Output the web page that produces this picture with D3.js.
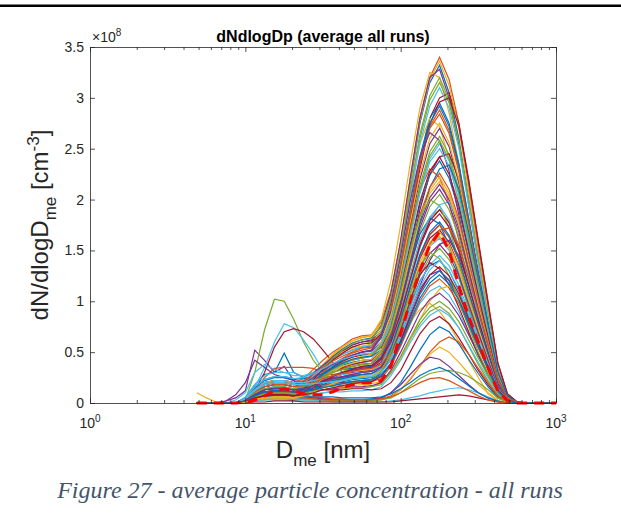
<!DOCTYPE html>
<html>
<head>
<meta charset="utf-8">
<script src="https://cdn.jsdelivr.net/npm/d3@7"></script>
<style>
  body { margin: 0; background: #fff; }
  svg { display: block; font-family: "Liberation Sans", Arial, sans-serif; }
</style>
</head>
<body>
<svg id="chart" width="621" height="529"></svg>
<script>
// mobility diameter bins [nm]
const diameters = [4.87, 5.62, 6.49, 7.5, 8.66, 10, 11.5, 13.3, 15.4, 17.8, 20.5, 23.7, 27.4, 31.6, 36.5,
  42.2, 48.7, 56.2, 64.9, 75, 86.6, 100, 115, 133, 154, 178, 205, 237, 274, 316, 365, 422, 487,
  562, 649, 750, 866, 1000];

const xTickExps = [0, 1, 2, 3];
const yTicks = [0, 0.5, 1, 1.5, 2, 2.5, 3, 3.5];

// dN/dlogDp per run, in units of 1e8 cm^-3
const runs = [
  [0,0,0,0,0, .05,.18,.28,.3,.49,.3,.25,.2,.2,.22,.25,.27,.28,.29,.33,.45,.68,.95,1.2,1.35,1.4,1.3,1.1,.85,.6,.37,.13,.02, 0,0,0,0,0],
  [0,0,0,0,0, .04,.13,.2,.22,.22,.2,.24,.33,.42,.5,.56,.63,.66,.67,.8,1.1,1.58,2.2,2.8,3.2,3.4,3.18,2.75,2.12,1.5,.92,.34,.07, 0,0,0,0,0],
  [.1,.05,.01,0,0, .01,.05,.1,.12,.12,.1,.08,.08,.1,.12,.14,.15,.16,.2,.3,.45,.62,.8,.92,.98,.9,.77,.6,.42,.25,.09,.02,0, 0,0,0,0,0],
  [0,0,0,.02,.05, .12,.52,.42,.3,.36,.22,.15,.14,.16,.2,.24,.26,.27,.28,.32,.44,.66,.9,1.12,1.26,1.3,1.2,1.02,.78,.55,.33,.12,.02, 0,0,0,0,0],
  [0,0,0,0,0, .03,.3,.72,1.02,1.0,.82,.6,.42,.3,.2,.16,.15,.15,.16,.2,.3,.45,.62,.78,.9,.95,.88,.74,.56,.38,.22,.08,.01, 0,0,0,0,0],
  [0,0,0,0,0, .02,.15,.35,.6,.78,.74,.62,.48,.32,.22,.2,.2,.21,.22,.26,.38,.56,.77,.98,1.1,1.15,1.06,.9,.68,.47,.28,.1,.02, 0,0,0,0,0],
  [0,0,0,0,0, .02,.12,.3,.55,.7,.73,.7,.63,.52,.4,.3,.28,.3,.32,.38,.55,.82,1.12,1.42,1.62,1.7,1.58,1.35,1.05,.74,.45,.17,.03, 0,0,0,0,0],
  [0,0,0,0,0, .03,.09,.14,.15,.15,.14,.18,.28,.37,.46,.53,.59,.62,.64,.75,1.05,1.55,2.15,2.75,3.15,3.32,3.05,2.6,2,1.42,.85,.3,.06, 0,0,0,0,0],
  [0,0,0,0,0, .03,.12,.25,.34,.35,.35,.35,.34,.3,.28,.3,.32,.34,.35,.42,.6,.9,1.25,1.6,1.82,1.9,1.78,1.52,1.18,.84,.5,.18,.03, 0,0,0,0,0],
  [0,0,0,0,0, .02,.06,.09,.1,.1,.09,.14,.25,.36,.47,.55,.61,.64,.66,.82,1.2,1.75,2.35,2.9,3.25,3.2,2.85,2.35,1.75,1.2,.68,.24,.04, 0,0,0,0,0],
  [0,0,0,.02,.08, .2,.42,.35,.28,.25,.22,.2,.2,.22,.25,.28,.3,.31,.32,.38,.54,.82,1.14,1.45,1.66,1.75,1.63,1.4,1.08,.76,.46,.17,.03, 0,0,0,0,0],
  [0,0,0,0,0, .03,.11,.16,.18,.18,.16,.2,.28,.36,.44,.5,.55,.58,.6,.72,1.0,1.48,2.05,2.6,2.98,3.15,2.95,2.55,1.98,1.4,.85,.32,.06, 0,0,0,0,0],
  [0,0,0,0,.03, .1,.3,.38,.33,.3,.3,.26,.22,.2,.21,.24,.26,.27,.28,.34,.5,.76,1.05,1.34,1.54,1.62,1.5,1.28,.99,.7,.42,.15,.03, 0,0,0,0,0],
  [0,0,0,0,0, .02,.05,.07,.08,.08,.07,.12,.22,.33,.43,.51,.57,.6,.61,.7,.92,1.3,1.8,2.35,2.8,3.0,3.05,2.75,2.2,1.6,1.0,.4,.09, .01,0,0,0,0],
  [0,0,0,0,0, .05,.15,.22,.25,.25,.23,.25,.3,.37,.43,.48,.52,.55,.56,.68,.92,1.38,1.9,2.42,2.8,2.95,2.75,2.35,1.82,1.28,.78,.29,.06, 0,0,0,0,0],
  [0,0,0,0,0, .02,.07,.11,.12,.12,.11,.14,.22,.3,.38,.44,.49,.52,.54,.65,.9,1.33,1.85,2.36,2.72,2.88,2.68,2.3,1.78,1.26,.77,.28,.05, 0,0,0,0,0],
  [0,0,0,0,0, .01,.04,.05,.06,.06,.06,.1,.2,.32,.42,.5,.54,.56,.58,.72,1.05,1.55,2.1,2.55,2.8,2.72,2.4,1.95,1.45,.98,.55,.18,.03, 0,0,0,0,0],
  [0,0,0,0,0, .04,.12,.18,.2,.2,.18,.2,.26,.32,.38,.43,.47,.5,.51,.6,.84,1.24,1.73,2.2,2.55,2.7,2.52,2.16,1.68,1.18,.72,.27,.05, 0,0,0,0,0],
  [0,0,0,0,0, .03,.08,.13,.14,.14,.13,.15,.22,.29,.35,.41,.45,.48,.49,.58,.8,1.2,1.68,2.14,2.47,2.62,2.44,2.1,1.62,1.15,.7,.26,.05, 0,0,0,0,0],
  [0,0,0,0,0, .06,.18,.27,.3,.3,.27,.27,.3,.33,.37,.4,.43,.45,.46,.55,.78,1.17,1.63,2.08,2.4,2.55,2.38,2.05,1.58,1.12,.69,.25,.05, 0,0,0,0,0],
  [0,0,0,0,0, .02,.06,.09,.1,.1,.09,.12,.2,.28,.35,.41,.45,.47,.48,.55,.72,1.05,1.45,1.9,2.25,2.42,2.45,2.2,1.75,1.28,.8,.32,.07, .01,0,0,0,0],
  [0,0,0,0,0, .03,.1,.14,.16,.16,.14,.16,.21,.27,.32,.37,.4,.42,.43,.52,.72,1.1,1.52,1.95,2.24,2.38,2.21,1.9,1.48,1.05,.64,.24,.05, 0,0,0,0,0],
  [0,0,0,0,0, .02,.05,.07,.08,.08,.07,.11,.19,.27,.34,.39,.42,.44,.46,.58,.85,1.27,1.72,2.1,2.3,2.22,1.96,1.6,1.18,.8,.45,.15,.03, 0,0,0,0,0],
  [0,0,0,0,0, .04,.13,.2,.22,.22,.2,.21,.24,.28,.32,.36,.38,.4,.41,.49,.67,1.02,1.42,1.82,2.09,2.22,2.06,1.78,1.38,.98,.6,.22,.04, 0,0,0,0,0],
  [0,0,0,0,0, .02,.07,.11,.12,.12,.11,.13,.18,.24,.3,.34,.36,.38,.39,.46,.65,.99,1.38,1.76,2.02,2.15,2.0,1.72,1.33,.95,.58,.22,.04, 0,0,0,0,0],
  [0,0,0,0,0, .01,.03,.05,.05,.05,.05,.08,.14,.2,.26,.31,.34,.36,.37,.44,.62,.94,1.31,1.68,1.93,2.05,1.9,1.64,1.27,.9,.55,.2,.04, 0,0,0,0,0],
  [0,0,0,0,0, .04,.11,.16,.18,.18,.16,.18,.23,.28,.32,.36,.38,.4,.41,.46,.6,.85,1.18,1.52,1.8,1.95,1.98,1.78,1.42,1.04,.66,.27,.06, .01,0,0,0,0],
  [0,0,0,0,0, .02,.06,.09,.1,.1,.09,.11,.16,.21,.26,.29,.31,.33,.34,.4,.57,.87,1.22,1.56,1.79,1.9,1.77,1.52,1.18,.84,.51,.19,.04, 0,0,0,0,0],
  [0,0,0,0,0, .05,.16,.23,.26,.26,.24,.24,.26,.29,.31,.33,.34,.35,.36,.45,.66,.98,1.35,1.66,1.82,1.76,1.55,1.26,.93,.63,.36,.12,.02, 0,0,0,0,0],
  [0,0,0,0,0, .01,.04,.06,.07,.07,.06,.08,.13,.18,.23,.26,.28,.3,.31,.36,.52,.8,1.12,1.43,1.65,1.75,1.63,1.4,1.08,.77,.47,.17,.03, 0,0,0,0,0],
  [0,0,0,0,0, .03,.09,.13,.15,.15,.13,.15,.19,.23,.27,.29,.31,.32,.33,.38,.52,.78,1.08,1.38,1.58,1.68,1.56,1.34,1.04,.74,.45,.17,.03, 0,0,0,0,0],
  [0,0,0,0,0, .02,.07,.11,.12,.12,.11,.12,.16,.2,.24,.26,.27,.28,.29,.32,.42,.62,.88,1.15,1.4,1.56,1.6,1.45,1.16,.85,.54,.22,.05, .01,0,0,0,0],
  [0,0,0,0,0, .04,.12,.18,.2,.2,.18,.18,.2,.22,.23,.24,.25,.25,.26,.31,.46,.7,.97,1.25,1.43,1.52,1.41,1.22,.94,.67,.41,.15,.03, 0,0,0,0,0],
  [0,0,0,0,0, .01,.03,.05,.05,.05,.05,.07,.11,.16,.2,.23,.25,.27,.28,.32,.44,.67,.93,1.19,1.36,1.45,1.35,1.16,.9,.64,.39,.14,.03, 0,0,0,0,0],
  [0,0,0,0,0, .03,.08,.13,.14,.14,.13,.13,.15,.17,.19,.2,.21,.22,.23,.3,.48,.74,1.02,1.26,1.38,1.32,1.16,.94,.7,.47,.27,.09,.02, 0,0,0,0,0],
  [0,0,0,0,0, .02,.05,.08,.09,.09,.08,.09,.13,.16,.19,.21,.23,.24,.25,.28,.39,.6,.83,1.07,1.22,1.3,1.21,1.04,.81,.57,.35,.13,.03, 0,0,0,0,0],
  [0,0,0,0,0, .04,.11,.16,.18,.18,.16,.16,.17,.18,.19,.19,.2,.2,.21,.24,.36,.56,.78,1.0,1.15,1.22,1.13,.98,.76,.54,.33,.12,.02, 0,0,0,0,0],
  [0,0,0,0,0, .01,.04,.05,.06,.06,.05,.07,.1,.13,.15,.16,.17,.18,.19,.21,.29,.43,.62,.82,1.0,1.12,1.15,1.04,.84,.62,.4,.16,.04, 0,0,0,0,0],
  [0,0,0,0,0, .02,.07,.11,.12,.12,.11,.11,.12,.13,.14,.15,.16,.16,.17,.2,.32,.5,.69,.89,1.02,1.08,1.0,.86,.67,.48,.29,.11,.02, 0,0,0,0,0],
  [0,0,0,0,0, .04,.13,.2,.22,.22,.2,.19,.18,.17,.16,.15,.15,.15,.16,.18,.3,.46,.64,.82,.94,1.0,.93,.8,.62,.44,.27,.1,.02, 0,0,0,0,0],
  [0,0,0,0,0, .02,.05,.07,.08,.08,.07,.08,.09,.1,.11,.11,.12,.12,.13,.16,.27,.42,.59,.75,.86,.92,.86,.74,.57,.4,.25,.09,.02, 0,0,0,0,0],
  [0,0,0,0,0, .03,.09,.13,.15,.15,.13,.13,.13,.13,.13,.13,.14,.14,.13,.14,.2,.32,.5,.68,.8,.85,.78,.64,.48,.32,.18,.06,.01, 0,0,0,0,0],
  [0,0,0,0,0, .01,.03,.05,.05,.05,.04,.04,.04,.03,.03,.03,.03,.03,.04,.05,.1,.2,.35,.52,.67,.75,.7,.58,.43,.29,.16,.05,.01, 0,0,0,0,0],
  [0,0,0,0,0, .02,.06,.09,.1,.1,.09,.08,.06,.05,.04,.04,.03,.03,.03,.04,.07,.13,.23,.36,.5,.6,.65,.6,.48,.34,.2,.07,.01, 0,0,0,0,0],
  [0,0,0,0,0, .01,.02,.03,.04,.04,.04,.03,.03,.02,.02,.02,.02,.02,.02,.03,.06,.13,.24,.36,.48,.55,.5,.4,.29,.18,.1,.03,0, 0,0,0,0,0],
  [0,0,0,0,0, .02,.05,.08,.08,.08,.07,.06,.05,.04,.03,.03,.02,.02,.03,.05,.1,.18,.28,.38,.45,.43,.36,.27,.18,.1,.05,.02,0, 0,0,0,0,0],
  [0,0,0,0,0, 0,.02,.03,.04,.04,.03,.03,.03,.02,.02,.02,.02,.02,.02,.03,.05,.1,.17,.24,.29,.31,.32,.3,.26,.2,.13,.05,.01, 0,0,0,0,0],
  [0,0,0,0,0, .01,.02,.03,.03,.03,.02,.02,.02,.02,.01,.01,.01,.01,.01,.01,.02,.03,.05,.07,.1,.12,.14,.15,.13,.1,.06,.02,0, 0,0,0,0,0],
  [0,0,0,0,0, 0,.01,.01,.02,.02,.02,.01,.01,.01,.01,.01,.01,.01,.01,.01,.01,.02,.03,.04,.05,.06,.07,.08,.07,.05,.03,.01,0, 0,0,0,0,0],
  [0,0,0,0,0, .01,.04,.06,.07,.07,.06,.06,.06,.06,.06,.05,.05,.05,.05,.06,.09,.14,.2,.27,.32,.35,.31,.24,.17,.1,.05,.02,0, 0,0,0,0,0],
  [0,0,0,0,0, .02,.05,.07,.08,.07,.06,.05,.04,.03,.03,.03,.03,.03,.03,.04,.06,.1,.15,.2,.24,.25,.22,.17,.12,.07,.03,.01,0, 0,0,0,0,0],
  [0,0,0,0,0, .02,.07,.11,.12,.12,.11,.16,.27,.38,.48,.55,.61,.65,.66,.78,1.08,1.57,2.18,2.78,3.18,3.36,3.12,2.7,2.08,1.47,.9,.33,.07, 0,0,0,0,0],
  [0,0,0,0,0, .04,.12,.18,.2,.2,.18,.21,.29,.37,.45,.52,.57,.6,.62,.76,1.08,1.6,2.2,2.8,3.2,3.28,3.0,2.55,1.95,1.38,.83,.3,.06, 0,0,0,0,0],
  [0,0,0,0,0, .02,.05,.07,.08,.08,.07,.12,.23,.34,.44,.52,.58,.62,.63,.75,1.03,1.5,2.08,2.64,3.02,3.2,2.98,2.57,1.99,1.41,.86,.32,.06, 0,0,0,0,0],
  [0,0,0,0,0, .03,.1,.14,.16,.16,.14,.18,.26,.34,.42,.48,.52,.55,.57,.7,.98,1.45,2.0,2.55,2.92,3.1,2.9,2.5,1.94,1.37,.84,.31,.06, 0,0,0,0,0],
  [0,0,0,0,0, .02,.06,.09,.1,.1,.09,.13,.23,.33,.42,.49,.55,.58,.59,.68,.9,1.28,1.76,2.3,2.74,2.96,3.0,2.72,2.18,1.58,.98,.39,.09, .01,0,0,0,0],
  [0,0,0,0,0, .03,.08,.13,.14,.14,.13,.15,.22,.29,.36,.42,.47,.5,.52,.64,.9,1.34,1.87,2.38,2.75,2.92,2.72,2.33,1.8,1.27,.78,.29,.05, 0,0,0,0,0],
  [0,0,0,0,0, .04,.13,.2,.22,.22,.2,.22,.28,.35,.41,.46,.5,.54,.55,.67,.93,1.36,1.87,2.36,2.7,2.84,2.65,2.27,1.76,1.24,.76,.28,.05, 0,0,0,0,0],
  [0,0,0,0,0, .01,.04,.05,.06,.06,.06,.09,.17,.25,.32,.38,.43,.46,.48,.6,.86,1.28,1.77,2.25,2.6,2.75,2.56,2.2,1.7,1.2,.74,.27,.05, 0,0,0,0,0],
  [0,0,0,0,0, .04,.11,.16,.18,.18,.16,.19,.25,.32,.38,.43,.47,.5,.52,.66,.98,1.45,1.98,2.42,2.66,2.58,2.28,1.85,1.38,.93,.52,.17,.03, 0,0,0,0,0],
  [0,0,0,0,0, .02,.06,.09,.1,.1,.09,.12,.19,.26,.33,.38,.42,.44,.46,.56,.8,1.19,1.65,2.1,2.43,2.58,2.4,2.06,1.6,1.13,.7,.26,.05, 0,0,0,0,0],
  [0,0,0,0,0, .05,.16,.23,.26,.26,.24,.25,.29,.34,.39,.43,.46,.48,.49,.58,.8,1.17,1.62,2.06,2.37,2.5,2.33,2.0,1.55,1.1,.68,.25,.05, 0,0,0,0,0],
  [0,0,0,0,0, .02,.05,.07,.08,.08,.07,.1,.17,.24,.3,.35,.38,.4,.42,.52,.75,1.12,1.55,1.98,2.28,2.42,2.25,1.94,1.5,1.06,.65,.24,.05, 0,0,0,0,0],
  [0,0,0,0,0, .03,.08,.13,.14,.14,.13,.15,.21,.28,.34,.39,.43,.45,.46,.52,.68,.98,1.36,1.78,2.12,2.3,2.34,2.1,1.68,1.22,.77,.31,.07, .01,0,0,0,0],
  [0,0,0,0,0, .04,.12,.18,.2,.2,.18,.19,.22,.26,.3,.33,.36,.38,.39,.48,.69,1.04,1.45,1.85,2.12,2.26,2.1,1.81,1.4,.99,.61,.23,.04, 0,0,0,0,0],
  [0,0,0,0,0, .01,.03,.05,.05,.05,.05,.09,.16,.24,.3,.36,.39,.42,.43,.52,.72,1.05,1.44,1.82,2.06,2.18,2.03,1.75,1.35,.96,.59,.22,.04, 0,0,0,0,0],
  [0,0,0,0,0, .02,.07,.11,.12,.12,.11,.13,.17,.22,.27,.3,.32,.34,.35,.43,.63,.96,1.34,1.72,1.98,2.1,1.95,1.68,1.3,.92,.57,.21,.04, 0,0,0,0,0],
  [0,0,0,0,0, .03,.1,.14,.16,.16,.14,.16,.2,.25,.3,.33,.36,.38,.39,.5,.74,1.1,1.5,1.84,2.0,1.94,1.72,1.4,1.04,.7,.4,.13,.02, 0,0,0,0,0],
  [0,0,0,0,0, .04,.13,.2,.22,.22,.2,.2,.22,.24,.26,.28,.29,.3,.31,.38,.57,.88,1.24,1.6,1.83,1.94,1.8,1.55,1.2,.86,.53,.2,.04, 0,0,0,0,0],
  [0,0,0,0,0, .02,.05,.07,.08,.08,.07,.1,.15,.21,.26,.3,.33,.36,.37,.44,.6,.88,1.21,1.54,1.76,1.86,1.73,1.49,1.15,.82,.5,.19,.04, 0,0,0,0,0],
  [0,0,0,0,0, .02,.07,.11,.12,.12,.11,.12,.15,.18,.22,.24,.26,.28,.29,.35,.53,.81,1.14,1.46,1.68,1.78,1.65,1.42,1.1,.78,.48,.18,.04, 0,0,0,0,0],
  [0,0,0,0,0, .04,.11,.16,.18,.18,.16,.17,.2,.24,.27,.29,.31,.33,.34,.38,.5,.72,1.0,1.3,1.56,1.7,1.72,1.55,1.23,.9,.57,.23,.05, .01,0,0,0,0],
  [0,0,0,0,0, .01,.04,.05,.06,.06,.05,.07,.11,.15,.19,.22,.24,.26,.27,.32,.48,.74,1.04,1.34,1.55,1.64,1.52,1.31,1.02,.72,.44,.16,.03, 0,0,0,0,0],
  [0,0,0,0,0, .03,.08,.13,.14,.14,.13,.14,.17,.2,.24,.26,.28,.3,.31,.35,.49,.72,1.0,1.28,1.47,1.56,1.45,1.25,.97,.69,.42,.16,.03, 0,0,0,0,0],
  [0,0,0,0,0, .02,.06,.09,.1,.1,.09,.1,.12,.15,.17,.19,.2,.22,.23,.31,.5,.78,1.08,1.34,1.48,1.42,1.25,1.01,.75,.5,.29,.1,.02, 0,0,0,0,0],
  [0,0,0,0,0, .04,.12,.18,.2,.2,.18,.18,.19,.2,.21,.22,.24,.25,.26,.3,.42,.64,.89,1.14,1.31,1.4,1.3,1.12,.87,.62,.38,.14,.03, 0,0,0,0,0],
  [0,0,0,0,0, .02,.05,.07,.08,.08,.07,.08,.1,.13,.15,.17,.19,.2,.21,.26,.39,.61,.85,1.09,1.26,1.34,1.25,1.07,.83,.59,.36,.13,.03, 0,0,0,0,0],
  [0,0,0,0,0, .02,.07,.11,.12,.12,.11,.11,.13,.15,.17,.19,.21,.22,.23,.27,.38,.58,.8,1.03,1.18,1.26,1.17,1.01,.78,.56,.34,.12,.02, 0,0,0,0,0]
];

// average of all runs
const meanRun = [0,0,0,0,0, .01,.03,.07,.12,.14,.12,.09,.08,.08,.11,.15,.18,.2,.2,.22,.36,.68,1.0,1.3,1.55,1.68,1.5,1.15,.85,.6,.35,.12,.02, 0,0,0,0,0];

const matlabColors = ["#0072BD", "#D95319", "#EDB120", "#7E2F8E", "#77AC30", "#4DBEEE", "#A2142F"];

const svg = d3.select("#chart");
const W = +svg.attr("width");
const plot = { left: 90, top: 47, right: 556, bottom: 403 };
const axisColor = "#262626";

const x = d3.scaleLog().domain([1, 1000]).range([plot.left, plot.right]);
const y = d3.scaleLinear().domain([0, 3.5]).range([plot.bottom, plot.top]);

// rule above the figure (page border)
svg.append("rect").attr("x", 0).attr("y", 4.5).attr("width", W).attr("height", 2.5).attr("fill", "#000");

// runs
const line = d3.line()
  .x((d, i) => x(diameters[i]))
  .y(d => y(d));

const g = svg.append("g");
g.selectAll("path.run")
  .data(runs)
  .join("path")
  .attr("class", "run")
  .attr("d", line)
  .attr("fill", "none")
  .attr("stroke", (d, i) => matlabColors[i % matlabColors.length])
  .attr("stroke-width", 1.2);

// mean, red dashed
g.append("path")
  .datum(meanRun)
  .attr("d", line)
  .attr("fill", "none")
  .attr("stroke", "#FF0000")
  .attr("stroke-width", 3)
  .attr("stroke-dasharray", "10,7");

// axes (ticks inside, box on)
const majors = xTickExps.map(e => Math.pow(10, e));
const minors = [];
majors.slice(0, -1).forEach(m => { for (let k = 2; k <= 9; k++) minors.push(m * k); });

function styleAxis(sel) {
  sel.selectAll("path,line").attr("stroke", axisColor).attr("stroke-width", 0.8);
  sel.selectAll("text").attr("fill", axisColor).style("font-size", "14px")
    .style("font-family", "'Liberation Sans', Arial, sans-serif");
}

svg.append("g").attr("transform", `translate(0,${plot.bottom})`)
  .call(d3.axisBottom(x).tickValues(majors).tickSize(-5).tickSizeOuter(0).tickFormat(""))
  .call(styleAxis);
svg.append("g").attr("transform", `translate(0,${plot.bottom})`)
  .call(d3.axisBottom(x).tickValues(minors).tickSize(-3).tickFormat(""))
  .call(s => s.select(".domain").remove())
  .call(styleAxis);
svg.append("g").attr("transform", `translate(0,${plot.top})`)
  .call(d3.axisTop(x).tickValues(majors).tickSize(-5).tickSizeOuter(0).tickFormat(""))
  .call(styleAxis);
svg.append("g").attr("transform", `translate(0,${plot.top})`)
  .call(d3.axisTop(x).tickValues(minors).tickSize(-3).tickFormat(""))
  .call(s => s.select(".domain").remove())
  .call(styleAxis);
svg.append("g").attr("transform", `translate(${plot.left},0)`)
  .call(d3.axisLeft(y).tickValues(yTicks).tickSize(-5).tickSizeOuter(0).tickPadding(6).tickFormat(d3.format("~g")))
  .call(styleAxis);
svg.append("g").attr("transform", `translate(${plot.right},0)`)
  .call(d3.axisRight(y).tickValues(yTicks).tickSize(-5).tickSizeOuter(0).tickFormat(""))
  .call(styleAxis);

// x tick labels 10^n
const xl = svg.append("g").attr("fill", axisColor).style("font-size", "14px");
xTickExps.forEach(e => {
  const t = xl.append("text").attr("x", x(Math.pow(10, e))).attr("y", 428).attr("text-anchor", "middle");
  t.append("tspan").text("10");
  t.append("tspan").attr("dy", -6).style("font-size", "10px").text(e);
});

// exponent label
const ex = svg.append("text").attr("x", 92).attr("y", 42).attr("fill", axisColor).style("font-size", "14px");
ex.append("tspan").text("\u00d710");
ex.append("tspan").attr("dy", -6).style("font-size", "10px").text("8");

// title
svg.append("text")
  .attr("x", (plot.left + plot.right) / 2)
  .attr("y", 42)
  .attr("text-anchor", "middle")
  .style("font-size", "16px")
  .style("font-weight", "bold")
  .attr("fill", "#000")
  .text("dNdlogDp (average all runs)");

// x label
const xt = svg.append("text")
  .attr("x", (plot.left + plot.right) / 2)
  .attr("y", 458)
  .attr("text-anchor", "middle")
  .attr("fill", axisColor)
  .style("font-size", "24px");
xt.append("tspan").text("D");
xt.append("tspan").attr("dy", 8).style("font-size", "17px").text("me");
xt.append("tspan").attr("dy", -8).text(" [nm]");

// y label
const yt = svg.append("text")
  .attr("transform", `translate(48,${(plot.top + plot.bottom) / 2}) rotate(-90)`)
  .attr("text-anchor", "middle")
  .attr("fill", axisColor)
  .style("font-size", "24px");
yt.append("tspan").text("dN/dlogD");
yt.append("tspan").attr("dy", 8).style("font-size", "17px").text("me");
yt.append("tspan").attr("dy", -8).text(" [cm");
yt.append("tspan").attr("dy", -9).style("font-size", "17px").text("-3");
yt.append("tspan").attr("dy", 9).text("]");

// figure caption
svg.append("text")
  .attr("x", 310)
  .attr("y", 498)
  .attr("text-anchor", "middle")
  .attr("fill", "#44546A")
  .style("font-family", "'Liberation Serif', 'Times New Roman', serif")
  .style("font-style", "italic")
  .style("font-size", "24px")
  .text("Figure 27 - average particle concentration - all runs");
</script>
</body>
</html>
